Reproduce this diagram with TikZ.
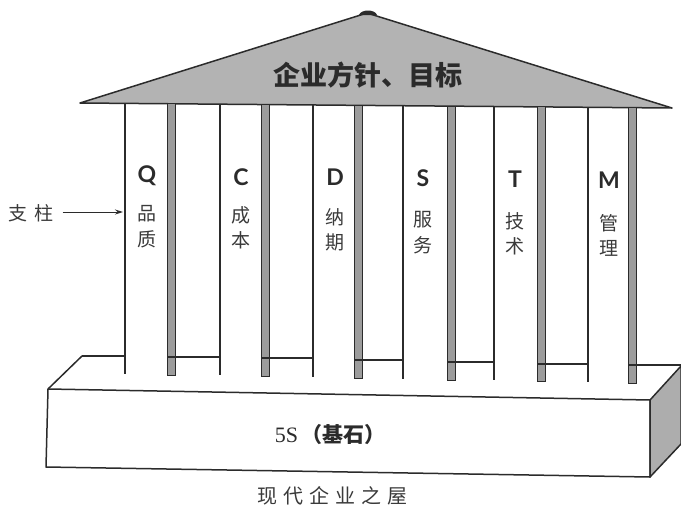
\documentclass[tikz,border=0pt]{standalone}
\usepackage{fontspec}
\setmainfont{Liberation Serif}
\newfontfamily\cjk{Noto Sans CJK SC}
\newfontfamily\latb{Lato}
\usetikzlibrary{arrows.meta}
\definecolor{ink}{HTML}{2B2B2B}
\definecolor{roofgray}{HTML}{B3B3B3}
\definecolor{bargray}{HTML}{9C9C9C}
\definecolor{sidegray}{HTML}{ADADAD}
\definecolor{txt}{HTML}{3A3A3A}
\tikzset{
  edge/.style={draw=ink, line width=1.5pt, line join=round},
  pline/.style={draw=ink, line width=1.3pt},
  bar/.style={fill=bargray, draw=ink, line width=1pt},
  letterlbl/.style={font=\latb\bfseries\fontsize{23}{23}\selectfont, text=ink, inner sep=0pt},
  cjklbl/.style={font=\cjk\fontsize{19}{19}\selectfont, text=txt, inner sep=0pt},
}
\begin{document}
\begin{tikzpicture}[x=1pt, y=-1pt]
\useasboundingbox (0,0) rectangle (681,507);
% roof
\draw[edge, fill=roofgray] (80,103) -- (367,13) -- (672,108) -- cycle;
\fill[ink] (359,15) .. controls (361,9) and (375,9) .. (377,15) -- cycle;
\node[font=\cjk\bfseries\fontsize{27}{27}\selectfont, text=ink, inner sep=0pt] (goal) at (368,75) {企业方针、目标};
% base
\draw[edge, fill=white] (48,389) -- (650,400) -- (650,477) -- (46,467) -- cycle;
\draw[edge, fill=sidegray] (650,400) -- (681,366) -- (681,444) -- (650,477) -- cycle;
\draw[edge] (82,356) -- (48,389);
\draw[pline] (82,356) -- (125,356);
% pillars
\foreach \lx/\bx/\lb/\bb/\by/\nx/\ty/\tb in {
  125/167/374/375/357/220/103.4/103.8,
  220/261/375/376/358/313/104.2/104.5,
  313/354/377/378/360/403/105.0/105.3,
  403/447/379/380/362/494/105.7/106.1,
  494/537/380/381/364/588/106.5/106.9,
  588/628/382/383/365/681/107.3/107.6}{
  \draw[pline] (\lx,\ty) -- (\lx,\lb);
  \draw[bar] (\bx,\tb) rectangle (\bx+8,\bb);
  \draw[pline] (\bx,\by) -- (\nx,\by);
}
% labels
\foreach \n/\x/\L/\ly/\a/\b/\cy in {
  q/147/Q/176/品/质/214,
  c/241/C/177/成/本/215,
  d/335/D/177/纳/期/217,
  s/423/S/178/服/务/220,
  t/515/T/179/技/术/221,
  m/609/M/180/管/理/223}{
  \node[letterlbl] (L\n) at (\x,\ly) {\L};
  \node[cjklbl] (A\n) at (\x,\cy) {\a};
  \node[cjklbl] (B\n) at (\x,\cy+25) {\b};
}
\node[cjklbl] (zl) at (31,213) {支\hspace{7pt}柱};
\coordinate (p1) at (123,212);
\draw[ink, line width=1pt, -{Stealth[length=8pt,width=5pt]}] (zl.east) ++(9,-1) coordinate (as) (as) -- (p1);
\node[inner sep=0pt, text=ink] (base) at (330,435) {{\fontsize{22}{22}\selectfont 5S}\hspace{3pt}{\cjk\bfseries\fontsize{21}{21}\selectfont （基石）}};
\node[cjklbl, font=\cjk\fontsize{20}{20}\selectfont] (title) at (332,496) {现\hspace{6pt}代\hspace{6pt}企\hspace{6pt}业\hspace{6pt}之\hspace{6pt}屋};
\end{tikzpicture}
\end{document}
